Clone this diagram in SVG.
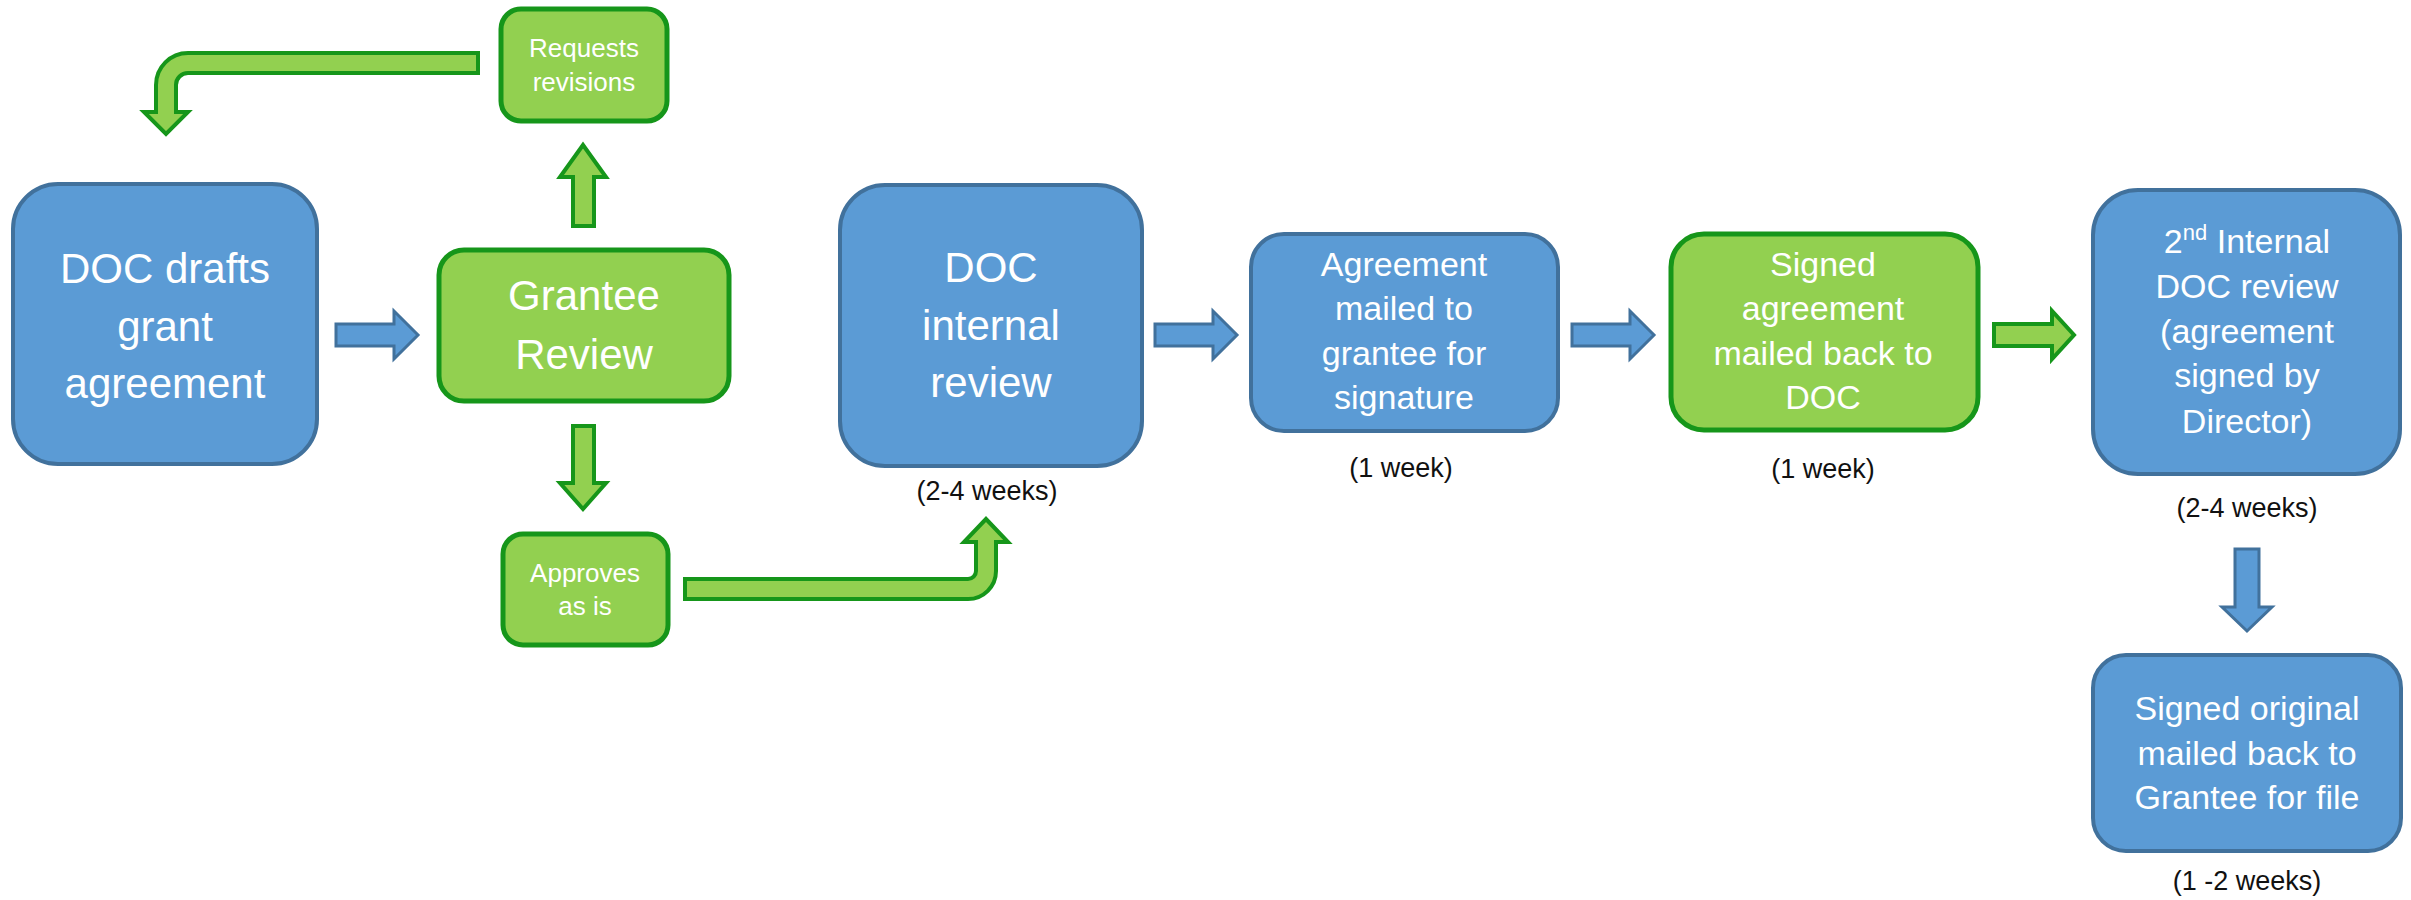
<svg xmlns="http://www.w3.org/2000/svg" width="2411" height="900" viewBox="0 0 2411 900">
<style>
.bbox{fill:#5B9BD5;stroke:#41719C;stroke-width:4}
.gbox{fill:#92D050;stroke:#16961A;stroke-width:5}
.barr{fill:#5B9BD5;stroke:#41719C;stroke-width:3;stroke-linejoin:miter}
.garr{fill:#92D050;stroke:#16961A;stroke-width:4;stroke-linejoin:miter}
text{font-family:"Liberation Sans",Arial,sans-serif;text-anchor:middle}
.t{fill:#FFFFFF}
.big{font-size:42px}
.mid{font-size:34px}
.sm{font-size:26px}
.lbl{fill:#111111;font-size:27px}
</style>
<rect width="2411" height="900" fill="#FFFFFF"/>
<g id="connectors">
<path class="barr" d="M336 324 L394 324 L394 311 L418 335 L394 359 L394 346 L336 346 Z"/>
<path class="garr" d="M573 226 L573 177 L560 177 L583 145 L606 177 L594 177 L594 226 Z"/>
<path class="garr" d="M573 426 L594 426 L594 483 L606 483 L583 509 L560 483 L573 483 Z"/>
<path class="garr" d="M478 53 L188 53 A32 32 0 0 0 156 85 L156 112 L144 112 L166 134 L188 112 L176 112 L176 85 A12 12 0 0 1 188 73 L478 73 Z"/>
<path class="garr" d="M685 579 L968 579 A8 8 0 0 0 976 571 L976 542 L964 542 L986 519 L1008 542 L996 542 L996 571 A28 28 0 0 1 968 599 L685 599 Z"/>
<path class="barr" d="M1155 324 L1213 324 L1213 311 L1237 335 L1213 359 L1213 346 L1155 346 Z"/>
<path class="barr" d="M1572 324 L1630 324 L1630 311 L1654 335 L1630 359 L1630 346 L1572 346 Z"/>
<path class="garr" d="M1994 324 L2052 324 L2052 311 L2074 335 L2052 359 L2052 346 L1994 346 Z"/>
<path class="barr" d="M2235 549 L2259 549 L2259 607 L2272 607 L2247 631 L2222 607 L2235 607 Z"/>
</g>
<g id="doc-drafts">
<rect class="bbox" x="13" y="184" width="304" height="280" rx="45"/>
<text class="t big" x="165" y="283">DOC drafts</text>
<text class="t big" x="165" y="341">grant</text>
<text class="t big" x="165" y="398">agreement</text>
</g>
<g id="grantee-review">
<rect class="gbox" x="439" y="250" width="290" height="151" rx="25"/>
<text class="t big" x="584" y="310">Grantee</text>
<text class="t big" x="584" y="369">Review</text>
</g>
<g id="requests-revisions">
<rect class="gbox" x="501" y="9" width="166" height="112" rx="20"/>
<text class="t sm" x="584" y="57">Requests</text>
<text class="t sm" x="584" y="91">revisions</text>
</g>
<g id="approves">
<rect class="gbox" x="503" y="534" width="165" height="111" rx="20"/>
<text class="t sm" x="585" y="582">Approves</text>
<text class="t sm" x="585" y="615">as is</text>
</g>
<g id="doc-internal">
<rect class="bbox" x="840" y="185" width="302" height="281" rx="45"/>
<text class="t big" x="991" y="282">DOC</text>
<text class="t big" x="991" y="340">internal</text>
<text class="t big" x="991" y="397">review</text>
<text class="lbl" x="987" y="500">(2-4 weeks)</text>
</g>
<g id="agreement-mailed">
<rect class="bbox" x="1251" y="234" width="307" height="197" rx="33"/>
<text class="t mid" x="1404" y="276">Agreement</text>
<text class="t mid" x="1404" y="320">mailed to</text>
<text class="t mid" x="1404" y="365">grantee for</text>
<text class="t mid" x="1404" y="409">signature</text>
<text class="lbl" x="1401" y="477">(1 week)</text>
</g>
<g id="signed-agreement">
<rect class="gbox" x="1671" y="234" width="307" height="196" rx="33"/>
<text class="t mid" x="1823" y="276">Signed</text>
<text class="t mid" x="1823" y="320">agreement</text>
<text class="t mid" x="1823" y="365">mailed back to</text>
<text class="t mid" x="1823" y="409">DOC</text>
<text class="lbl" x="1823" y="478">(1 week)</text>
</g>
<g id="second-internal">
<rect class="bbox" x="2093" y="190" width="307" height="284" rx="45"/>
<text class="t mid" x="2247" y="253">2<tspan font-size="22" dy="-13">nd</tspan><tspan dy="13"> Internal</tspan></text>
<text class="t mid" x="2247" y="298">DOC review</text>
<text class="t mid" x="2247" y="343">(agreement</text>
<text class="t mid" x="2247" y="387">signed by</text>
<text class="t mid" x="2247" y="433">Director)</text>
<text class="lbl" x="2247" y="517">(2-4 weeks)</text>
</g>
<g id="signed-original">
<rect class="bbox" x="2093" y="655" width="308" height="196" rx="33"/>
<text class="t mid" x="2247" y="720">Signed original</text>
<text class="t mid" x="2247" y="765">mailed back to</text>
<text class="t mid" x="2247" y="809">Grantee for file</text>
<text class="lbl" x="2247" y="890">(1 -2 weeks)</text>
</g>
</svg>
